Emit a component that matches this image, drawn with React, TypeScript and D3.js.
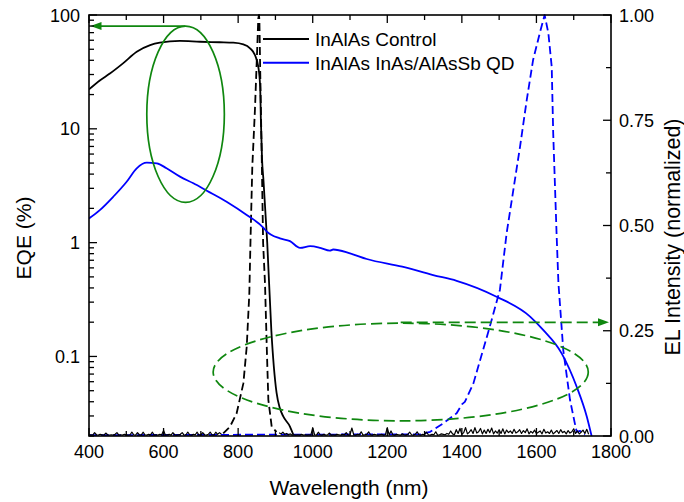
import React from "react";
import * as d3 from "d3";

// ---- Data -------------------------------------------------------------
// EQE (%) vs wavelength (nm)
const controlEQE: [number, number][] = [
  [400, 22.2], [429, 26.6], [456, 30.6], [492, 37.8], [528, 47.5], [564, 54.3],
  [590, 57.1], [644, 59.2], [698, 58.2], [750, 57.6], [787, 57.1], [814, 55.2],
  [832, 51.0], [845, 44.5], [854, 35.1], [859, 23.5], [861, 11.9], [864, 5.5],
  [868, 3.5], [878, 1.0], [889, 0.17], [903, 0.048], [912, 0.035], [921, 0.0297],
  [939, 0.0242], [948, 0.0205],
];

const qdEQE: [number, number][] = [
  [400, 1.63], [429, 1.93], [465, 2.53], [501, 3.43], [528, 4.5], [555, 5.04],
  [582, 4.97], [608, 4.5], [644, 3.8], [680, 3.32], [716, 2.86], [769, 2.29],
  [823, 1.75], [868, 1.35], [877, 1.25], [912, 1.09], [939, 1.03], [966, 0.9],
  [993, 0.93], [1020, 0.9], [1046, 0.85], [1055, 0.87], [1100, 0.805],
  [1145, 0.718], [1240, 0.615], [1323, 0.519], [1386, 0.462], [1493, 0.335],
  [1583, 0.224], [1618, 0.171], [1668, 0.106], [1708, 0.0542], [1735, 0.0297],
  [1748, 0.02],
];

// Normalized EL intensity vs wavelength (nm)
const controlELPeak: [number, number][] = [
  [760, 0.006], [778, 0.022], [796, 0.054], [814, 0.125], [823, 0.212],
  [830, 0.339], [833, 0.458], [838, 0.64], [845, 0.774], [851, 0.917],
  [854, 0.992], [856, 1.0], [857, 0.988], [859, 0.877], [863, 0.679],
  [867, 0.458], [872, 0.363], [877, 0.204], [881, 0.086], [890, 0.022],
  [903, 0.01],
];

// Control EL noise floor (x1000), 5 nm sampling
const controlNoiseLowStart = 400;
const controlNoiseLow = [
  2, 3, 2, 8, 3, 2, 4, 3, 2, 7, 3, 2, 3, 2, 4, 8, 2, 3, 2, 4, 3, 2, 3, 9,
  3, 2, 8, 3, 2, 9, 3, 2, 4, 3, 9, 2, 3, 2, 4, 3, 13, 2, 3, 4, 2, 8, 3, 2,
  3, 4, 8, 2, 3, 9, 3, 2, 4, 3, 9, 2, 3, 8, 3, 2, 4, 9, 3, 2, 9, 4, 8, 4,
];
const controlNoiseHighStart = 910;
const controlNoiseHigh = [
  8, 5, 9, 4, 6, 3, 5, 2, 3, 2,
  3, 2, 4, 2, 3, 2, 3, 2, 20, 3,
  2, 9, 3, 2, 4, 2, 3, 7, 2, 3,
  2, 4, 3, 2, 4, 3, 8, 2, 3, 19,
  3, 2, 4, 3, 10, 2, 3, 4, 10, 3,
  2, 4, 3, 2, 3, 4, 2, 3, 20, 3,
  12, 3, 2, 4, 3, 2, 5, 3, 2, 4,
  9, 3, 2, 4, 10, 3, 2, 4, 3, 9,
  3, 2, 4, 3, 10, 2, 3, 5, 4, 3,
  6, 4, 12, 5, 3, 15, 6, 18, 4, 8,
  20, 5, 9, 15, 6, 20, 7, 10, 18, 5,
  14, 6, 16, 8, 19, 5, 12, 7, 15, 6,
  17, 5, 14, 8, 12, 6, 16, 7, 10, 15,
  6, 13, 8, 17, 5, 11, 7, 14, 6, 9,
  12, 5, 16, 7, 10, 6, 14, 5, 9, 13,
  6, 15, 8, 11, 5, 13, 7, 10, 17, 6,
  12, 5, 9, 14, 6, 16, 4,
];
const noiseStep = 5;

const qdEL: [number, number][] = [
  [400, 0.002], [1290, 0.004], [1315, 0.01], [1350, 0.03], [1386, 0.054],
  [1400, 0.075], [1408, 0.081], [1431, 0.125], [1475, 0.26], [1502, 0.347],
  [1520, 0.481], [1556, 0.687], [1574, 0.798], [1591, 0.893], [1609, 0.957],
  [1622, 1.0], [1632, 0.957], [1641, 0.877], [1645, 0.719], [1654, 0.481],
  [1659, 0.363], [1672, 0.204], [1690, 0.086], [1703, 0.03], [1708, 0.01],
  [1717, 0.012], [1730, 0.003],
];

// Axis ticks
const xMajorTicks = [400, 600, 800, 1000, 1200, 1400, 1600, 1800];
const xMinorTicks = [500, 700, 900, 1100, 1300, 1500, 1700];
const eqeLabelTicks = [0.1, 1, 10, 100];
const eqeLabels = ["0.1", "1", "10", "100"];
const elMajorTicks = [0, 0.25, 0.5, 0.75, 1.0];
const elLabels = ["0.00", "0.25", "0.50", "0.75", "1.00"];
const elMinorTicks = [0.125, 0.375, 0.625, 0.875];

// Legend
const seriesNames = ["InAlAs Control", "InAlAs InAs/AlAsSb QD"];
const seriesColors = ["#000000", "#0000ff"];

// Annotation extents (data units)
const eqeEllipse = { nm: [555, 763], eqe: [2.26, 80] };
const eqeArrow = { nm: [658, 400], eqe: 80 };
const elEllipse = { nm: [733, 1739], el: [0.036, 0.268] };
const elArrow = { nm: [1236, 1800], el: 0.27 };

// ---- Layout -----------------------------------------------------------
const W = 684;
const H = 502;
const plot = { left: 89, right: 611, top: 15, bottom: 436 };
const FONT = "'Liberation Sans', Arial, Helvetica, sans-serif";
const GREEN = "#0f870f";

const x = d3.scaleLinear().domain([400, 1800]).range([plot.left, plot.right]);
const yEQE = d3.scaleLog().domain([0.02, 100]).range([plot.bottom, plot.top]);
const yEL = d3.scaleLinear().domain([0, 1]).range([plot.bottom, plot.top]);

function logMinorTicks(): number[] {
  const out: number[] = [];
  for (const dec of [0.01, 0.1, 1, 10]) {
    for (let m = 2; m <= 9; m++) {
      const v = +(dec * m).toPrecision(3);
      if (v >= 0.02 && v <= 100) out.push(v);
    }
  }
  return out;
}

function noiseSeries(start: number, vals: number[]): [number, number][] {
  return vals.map((v, i) => [start + i * noiseStep, v / 1000]);
}

export default function App() {
  const eqeLine = d3
    .line<[number, number]>()
    .x((d) => x(d[0]))
    .y((d) => yEQE(d[1]))
    .curve(d3.curveMonotoneX);
  const elLine = d3
    .line<[number, number]>()
    .x((d) => x(d[0]))
    .y((d) => yEL(d[1]));

  const lowNoise = noiseSeries(controlNoiseLowStart, controlNoiseLow);
  const highNoise = noiseSeries(controlNoiseHighStart, controlNoiseHigh);

  const e1 = {
    cx: (x(eqeEllipse.nm[0]) + x(eqeEllipse.nm[1])) / 2,
    cy: (yEQE(eqeEllipse.eqe[0]) + yEQE(eqeEllipse.eqe[1])) / 2,
    rx: (x(eqeEllipse.nm[1]) - x(eqeEllipse.nm[0])) / 2,
    ry: (yEQE(eqeEllipse.eqe[0]) - yEQE(eqeEllipse.eqe[1])) / 2,
  };
  const e2 = {
    cx: (x(elEllipse.nm[0]) + x(elEllipse.nm[1])) / 2,
    cy: (yEL(elEllipse.el[0]) + yEL(elEllipse.el[1])) / 2,
    rx: (x(elEllipse.nm[1]) - x(elEllipse.nm[0])) / 2,
    ry: (yEL(elEllipse.el[0]) - yEL(elEllipse.el[1])) / 2,
  };

  const a1y = yEQE(eqeArrow.eqe);
  const a1x0 = x(eqeArrow.nm[0]);
  const a1tip = x(eqeArrow.nm[1]) + 1.5;
  const a2y = yEL(elArrow.el);
  const a2x0 = x(elArrow.nm[0]);
  const a2tip = x(elArrow.nm[1]) - 2;

  const major = 8;
  const minor = 5;

  return (
    <svg
      width={W}
      height={H}
      style={{ position: "absolute", left: 0, top: 0, background: "#fff" }}
      fontFamily={FONT}
    >
      <rect x={0} y={0} width={W} height={H} fill="#fff" />
      <defs>
        <clipPath id="plotClip">
          <rect
            x={plot.left}
            y={plot.top - 2}
            width={plot.right - plot.left}
            height={plot.bottom - plot.top + 2}
          />
        </clipPath>
      </defs>

      <g clipPath="url(#plotClip)" fill="none" strokeLinejoin="round">
        {/* EL spectra (right axis) */}
        <path d={elLine(qdEL) || ""} stroke="#0000ff" strokeWidth={1.8} strokeDasharray="8,4" />
        <path d={elLine(lowNoise) || ""} stroke="#000" strokeWidth={1.2} />
        <path d={elLine(highNoise) || ""} stroke="#000" strokeWidth={1.2} />
        <path d={elLine(controlELPeak) || ""} stroke="#000" strokeWidth={1.8} strokeDasharray="8,4" />

        {/* EQE curves (left axis) */}
        <path d={eqeLine(controlEQE) || ""} stroke="#000" strokeWidth={1.8} />
        <path d={eqeLine(qdEQE) || ""} stroke="#0000ff" strokeWidth={1.8} />
      </g>

      {/* Annotations */}
      <ellipse cx={e1.cx} cy={e1.cy} rx={e1.rx} ry={e1.ry} fill="none" stroke={GREEN} strokeWidth={1.7} />
      <line x1={a1x0} y1={a1y} x2={a1tip + 9} y2={a1y} stroke={GREEN} strokeWidth={1.7} />
      <path
        d={`M${a1tip},${a1y} L${a1tip + 11},${a1y - 4} L${a1tip + 11},${a1y + 4} Z`}
        fill={GREEN}
      />
      <ellipse
        cx={e2.cx}
        cy={e2.cy}
        rx={e2.rx}
        ry={e2.ry}
        fill="none"
        stroke={GREEN}
        strokeWidth={1.7}
        strokeDasharray="11,5"
      />
      <line
        x1={a2x0}
        y1={a2y}
        x2={a2tip - 9}
        y2={a2y}
        stroke={GREEN}
        strokeWidth={1.7}
        strokeDasharray="11,5"
      />
      <path
        d={`M${a2tip},${a2y} L${a2tip - 11},${a2y - 4} L${a2tip - 11},${a2y + 4} Z`}
        fill={GREEN}
      />

      {/* Frame */}
      <rect
        x={plot.left}
        y={plot.top}
        width={plot.right - plot.left}
        height={plot.bottom - plot.top}
        fill="none"
        stroke="#000"
        strokeWidth={1.6}
      />

      {/* X ticks, bottom and top */}
      <g stroke="#000" strokeWidth={1.3}>
        {xMajorTicks.map((t) => (
          <g key={"xm" + t}>
            <line x1={x(t)} x2={x(t)} y1={plot.bottom} y2={plot.bottom - major} />
            <line x1={x(t)} x2={x(t)} y1={plot.top} y2={plot.top + major} />
          </g>
        ))}
        {xMinorTicks.map((t) => (
          <g key={"xn" + t}>
            <line x1={x(t)} x2={x(t)} y1={plot.bottom} y2={plot.bottom - minor} />
            <line x1={x(t)} x2={x(t)} y1={plot.top} y2={plot.top + minor} />
          </g>
        ))}
        {eqeLabelTicks.map((t) => (
          <line key={"ym" + t} x1={plot.left} x2={plot.left + major} y1={yEQE(t)} y2={yEQE(t)} />
        ))}
        {logMinorTicks().map((t) => (
          <line key={"yn" + t} x1={plot.left} x2={plot.left + minor} y1={yEQE(t)} y2={yEQE(t)} />
        ))}
        {elMajorTicks.map((t) => (
          <line key={"rm" + t} x1={plot.right} x2={plot.right - major} y1={yEL(t)} y2={yEL(t)} />
        ))}
        {elMinorTicks.map((t) => (
          <line key={"rn" + t} x1={plot.right} x2={plot.right - minor} y1={yEL(t)} y2={yEL(t)} />
        ))}
      </g>

      {/* Tick labels */}
      <g fontSize={18} fill="#000">
        {xMajorTicks.map((t) => (
          <text key={"xl" + t} x={x(t)} y={458} textAnchor="middle">
            {t}
          </text>
        ))}
        {eqeLabelTicks.map((t, i) => (
          <text key={"yl" + t} x={80} y={yEQE(t) + 6.5} textAnchor="end">
            {eqeLabels[i]}
          </text>
        ))}
        {elMajorTicks.map((t, i) => (
          <text key={"rl" + t} x={619} y={yEL(t) + 6.5} textAnchor="start">
            {elLabels[i]}
          </text>
        ))}
      </g>

      {/* Axis titles */}
      <text x={349} y={495} fontSize={21} textAnchor="middle" fill="#000">
        Wavelength (nm)
      </text>
      <text
        transform={`translate(31,238) rotate(-90)`}
        fontSize={21}
        textAnchor="middle"
        fill="#000"
      >
        EQE (%)
      </text>
      <text
        transform={`translate(680,237) rotate(-90)`}
        fontSize={21.5}
        textAnchor="middle"
        fill="#000"
      >
        EL Intensity (normalized)
      </text>

      {/* Legend */}
      {seriesNames.map((name, i) => {
        const ly = 39 + i * 23.7;
        return (
          <g key={name}>
            <line x1={263} x2={309} y1={ly} y2={ly} stroke={seriesColors[i]} strokeWidth={2} />
            <text x={315} y={ly + 7} fontSize={19} fill="#000">
              {name}
            </text>
          </g>
        );
      })}
    </svg>
  );
}
